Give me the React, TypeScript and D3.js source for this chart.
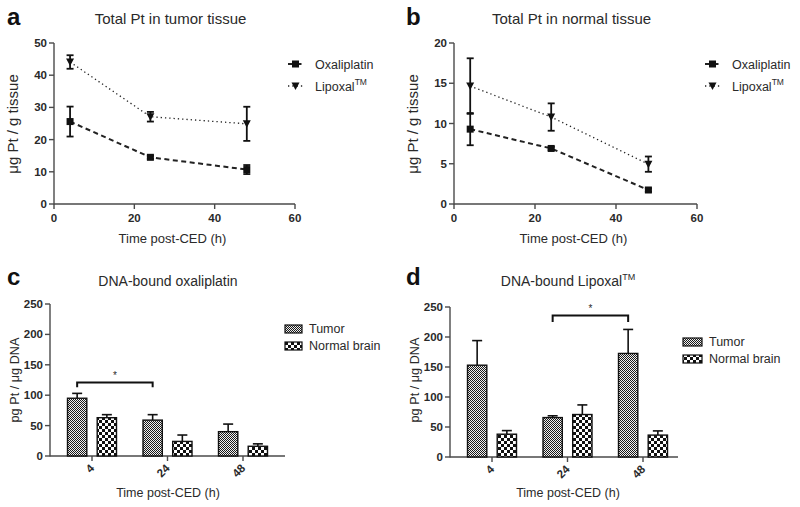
import React from 'react';
import * as d3 from 'd3';

// ---------- data ----------
const lineTimes = [4, 24, 48];
const lineXTicks = [0, 20, 40, 60];
const tumorYTicks = [0, 10, 20, 30, 40, 50];
const normalYTicks = [0, 5, 10, 15, 20];

const tumorOxaliplatinMean = [25.6, 14.5, 10.7];
const tumorOxaliplatinSd = [4.65, 0.5, 1.4];
const tumorLipoxalMean = [44.1, 27.1, 24.9];
const tumorLipoxalSd = [2.1, 1.5, 5.3];

const normalOxaliplatinMean = [9.3, 6.9, 1.74];
const normalOxaliplatinSd = [2.0, 0.2, 0.2];
const normalLipoxalMean = [14.65, 10.8, 4.95];
const normalLipoxalSd = [3.45, 1.7, 0.95];

const barGroups = ['4', '24', '48'];
const barSeriesNames = ['Tumor', 'Normal brain'];
const barYTicks = [0, 50, 100, 150, 200, 250];

const dnaOxTumor = [95, 59, 40];
const dnaOxTumorErr = [8, 9, 12.5];
const dnaOxNormal = [63, 24, 16];
const dnaOxNormalErr = [5, 10.5, 4];

const dnaLipTumor = [153, 65.7, 172.6];
const dnaLipTumorErr = [41, 3, 40];
const dnaLipNormal = [38, 70.8, 36.5];
const dnaLipNormalErr = [6, 16, 7];

const sigOxGroups = ['4', '24'];
const sigOxLevel = [121, 113];
const sigLipGroups = ['24', '48'];
const sigLipLevel = [236, 225];

const FONT = "'Liberation Sans', Arial, sans-serif";
const AXIS = '#4a4a4a';
const TXT = '#2a2a2a';

type Series = { name: string; mean: number[]; sd: number[]; dash: string; marker: 'square' | 'tri'; sw: number };

function Marker({ kind, x, y }: { kind: 'square' | 'tri'; x: number; y: number }) {
  if (kind === 'square') return <rect x={x - 3.5} y={y - 3.5} width={7} height={7} fill="#111" />;
  return <path d={`M${x - 4},${y - 3.5} L${x + 4},${y - 3.5} L${x},${y + 4} Z`} fill="#111" />;
}

function LinePanel(props: {
  letter: string; title: string; x0: number; x1: number; yMax: number; yTicks: number[];
  series: Series[]; legendX: number; ylabel: string; letterX: number;
}) {
  const { letter, title, x0, x1, yMax, yTicks, series, legendX, ylabel, letterX } = props;
  const x = d3.scaleLinear().domain([0, 60]).range([x0, x1]);
  const y = d3.scaleLinear().domain([0, yMax]).range([204, 43]);
  const cx = (x0 + x1) / 2 - 4;
  return (
    <g fontFamily={FONT}>
      <text x={letterX} y={25} fontSize={24} fontWeight="bold" fill="#111">{letter}</text>
      <text x={cx} y={24} fontSize={15} textAnchor="middle" fill={TXT}>{title}</text>
      {/* axes */}
      <line x1={x0} x2={x0} y1={y(0) + 0.5} y2={y(yMax)} stroke={AXIS} strokeWidth={1.4} />
      <line x1={x0} x2={x(60)} y1={y(0)} y2={y(0)} stroke={AXIS} strokeWidth={1.4} />
      {yTicks.map(t => (
        <g key={'y' + t}>
          <line x1={x0 - 5} x2={x0} y1={y(t)} y2={y(t)} stroke={AXIS} strokeWidth={1.4} />
          <text x={x0 - 7} y={y(t) + 4} fontSize={11.5} fontWeight="bold" textAnchor="end" fill={TXT}>{t}</text>
        </g>
      ))}
      {lineXTicks.map(t => (
        <g key={'x' + t}>
          <line x1={x(t)} x2={x(t)} y1={y(0)} y2={y(0) + 5} stroke={AXIS} strokeWidth={1.4} />
          <text x={x(t)} y={222} fontSize={11.5} fontWeight="bold" textAnchor="middle" fill={TXT}>{t}</text>
        </g>
      ))}
      <text x={cx + 2} y={243} fontSize={13} textAnchor="middle" fill={TXT}>Time post-CED (h)</text>
      <text transform={`translate(${x0 - 36},${124}) rotate(-90)`} fontSize={15} textAnchor="middle" fill={TXT}>{ylabel}</text>
      {/* series */}
      {series.map(s => {
        const line = d3.line<number>().x((_, i) => x(lineTimes[i])).y(d => y(d));
        return (
          <g key={s.name}>
            <path d={line(s.mean) || ''} fill="none" stroke="#222" strokeWidth={s.sw} strokeDasharray={s.dash} />
            {s.mean.map((m, i) => (
              <g key={i}>
                <line x1={x(lineTimes[i])} x2={x(lineTimes[i])} y1={y(m - s.sd[i])} y2={y(m + s.sd[i])} stroke="#111" strokeWidth={1.8} />
                <line x1={x(lineTimes[i]) - 3.5} x2={x(lineTimes[i]) + 3.5} y1={y(m - s.sd[i])} y2={y(m - s.sd[i])} stroke="#111" strokeWidth={1.8} />
                <line x1={x(lineTimes[i]) - 3.5} x2={x(lineTimes[i]) + 3.5} y1={y(m + s.sd[i])} y2={y(m + s.sd[i])} stroke="#111" strokeWidth={1.8} />
                <Marker kind={s.marker} x={x(lineTimes[i])} y={y(m)} />
              </g>
            ))}
          </g>
        );
      })}
      {/* legend */}
      {series.map((s, i) => {
        const ly = 64 + i * 22;
        return (
          <g key={'lg' + s.name}>
            <line x1={legendX} x2={legendX + 15} y1={ly} y2={ly} stroke="#222" strokeWidth={s.sw} strokeDasharray={s.dash} />
            <Marker kind={s.marker} x={legendX + 7.5} y={ly} />
            <text x={legendX + 27} y={ly + 5} fontSize={12.5} fill={TXT}>
              {s.name === 'Lipoxal' ? <>Lipoxal<tspan fontSize={8.5} dy={-6}>TM</tspan></> : s.name}
            </text>
          </g>
        );
      })}
    </g>
  );
}

function BarPanel(props: {
  letter: string; title: React.ReactNode; x0: number; xEnd: number; y0: number; y250: number;
  tumor: number[]; tumorErr: number[]; normal: number[]; normalErr: number[];
  sigGroups: string[]; sigLevel: number[]; legendX: number; legendY: number; swW: number; letterX: number;
}) {
  const p = props;
  const y = d3.scaleLinear().domain([0, 250]).range([p.y0, p.y250]);
  const gx = d3.scalePoint<string>().domain(barGroups).range([p.x0 + 42, p.x0 + 193]);
  const sx = d3.scaleBand<string>().domain(barSeriesNames).range([-24.5, 24.5]).paddingInner(0.35);
  const bw = sx.bandwidth();
  const cx = p.x0 + 118;
  const sets = [
    { name: barSeriesNames[0], vals: p.tumor, err: p.tumorErr, fill: 'url(#fine)' },
    { name: barSeriesNames[1], vals: p.normal, err: p.normalErr, fill: 'url(#checker)' },
  ];
  const sxA = (gx(p.sigGroups[0]) as number) + (sx(barSeriesNames[0]) as number) + bw / 2;
  const sxB = (gx(p.sigGroups[1]) as number) + (sx(barSeriesNames[0]) as number) + bw / 2;
  return (
    <g fontFamily={FONT}>
      <text x={p.letterX} y={285} fontSize={24} fontWeight="bold" fill="#111">{p.letter}</text>
      <text x={cx} y={286} fontSize={14} textAnchor="middle" fill={TXT}>{p.title}</text>
      <line x1={p.x0} x2={p.x0} y1={p.y0 + 0.5} y2={y(250)} stroke={AXIS} strokeWidth={1.4} />
      <line x1={p.x0} x2={p.xEnd} y1={p.y0} y2={p.y0} stroke={AXIS} strokeWidth={1.4} />
      {barYTicks.map(t => (
        <g key={'y' + t}>
          <line x1={p.x0 - 5} x2={p.x0} y1={y(t)} y2={y(t)} stroke={AXIS} strokeWidth={1.4} />
          <text x={p.x0 - 7} y={y(t) + 4} fontSize={11.5} fontWeight="bold" textAnchor="end" fill={TXT}>{t}</text>
        </g>
      ))}
      {barGroups.map(g => (
        <g key={'x' + g}>
          <line x1={gx(g)} x2={gx(g)} y1={p.y0} y2={p.y0 + 5} stroke={AXIS} strokeWidth={1.4} />
          <text transform={`translate(${(gx(g) as number) + 3},${p.y0 + 13}) rotate(-45)`} fontSize={11.5} fontWeight="bold" textAnchor="end" fill={TXT}>{g}</text>
        </g>
      ))}
      <text x={cx} y={497} fontSize={12.5} textAnchor="middle" fill={TXT}>Time post-CED (h)</text>
      <text transform={`translate(${p.x0 - 31},${380}) rotate(-90)`} fontSize={12.7} textAnchor="middle" fill={TXT}>pg Pt / μg DNA</text>
      {sets.map(s => (
        <g key={s.name}>
          {barGroups.map((g, i) => {
            const bx = (gx(g) as number) + (sx(s.name) as number);
            const mid = bx + bw / 2;
            return (
              <g key={g}>
                <line x1={mid} x2={mid} y1={y(s.vals[i])} y2={y(s.vals[i] + s.err[i])} stroke="#111" strokeWidth={1.6} />
                <line x1={mid - 5} x2={mid + 5} y1={y(s.vals[i] + s.err[i])} y2={y(s.vals[i] + s.err[i])} stroke="#111" strokeWidth={1.6} />
                <rect x={bx} y={y(s.vals[i])} width={bw} height={p.y0 - y(s.vals[i])} fill={s.fill} stroke="#111" strokeWidth={1.4} />
              </g>
            );
          })}
        </g>
      ))}
      {/* significance */}
      <path d={`M${sxA},${y(p.sigLevel[1])} V${y(p.sigLevel[0])} H${sxB} V${y(p.sigLevel[1])}`} fill="none" stroke="#111" strokeWidth={2} />
      <text x={(sxA + sxB) / 2} y={y(p.sigLevel[0]) - 3} fontSize={10} textAnchor="middle" fill={TXT}>*</text>
      {/* legend */}
      {sets.map((s, i) => (
        <g key={'lg' + s.name}>
          <rect x={p.legendX} y={p.legendY + i * 17} width={p.swW} height={8} fill={s.fill} stroke="#111" strokeWidth={1.2} />
          <text x={p.legendX + p.swW + 7} y={p.legendY + i * 17 + 8} fontSize={12.5} fill={TXT}>{s.name}</text>
        </g>
      ))}
    </g>
  );
}

export default function App() {
  const tumorSeries: Series[] = [
    { name: 'Oxaliplatin', mean: tumorOxaliplatinMean, sd: tumorOxaliplatinSd, dash: '5,3.5', marker: 'square', sw: 2 },
    { name: 'Lipoxal', mean: tumorLipoxalMean, sd: tumorLipoxalSd, dash: '1.3,3', marker: 'tri', sw: 1.3 },
  ];
  const normalSeries: Series[] = [
    { name: 'Oxaliplatin', mean: normalOxaliplatinMean, sd: normalOxaliplatinSd, dash: '5,3.5', marker: 'square', sw: 2 },
    { name: 'Lipoxal', mean: normalLipoxalMean, sd: normalLipoxalSd, dash: '1.3,3', marker: 'tri', sw: 1.3 },
  ];
  return (
    <svg width={800} height={507} style={{ position: 'absolute', left: 0, top: 0, background: '#fff' }}>
      <defs>
        <pattern id="fine" width={2} height={2} patternUnits="userSpaceOnUse">
          <rect width={2} height={2} fill="#f0f0f0" />
          <rect width={1} height={1} fill="#1a1a1a" />
          <rect x={1} y={1} width={1} height={1} fill="#1a1a1a" />
        </pattern>
        <pattern id="checker" width={6} height={6} patternUnits="userSpaceOnUse">
          <rect width={6} height={6} fill="#111" />
          <rect width={3} height={3} fill="#fff" />
          <rect x={3} y={3} width={3} height={3} fill="#fff" />
        </pattern>
      </defs>
      <rect width={800} height={507} fill="#fff" />
      <LinePanel letter="a" letterX={7} title="Total Pt in tumor tissue" x0={54} x1={295} yMax={50} yTicks={tumorYTicks}
        series={tumorSeries} legendX={288} ylabel="μg Pt / g tissue" />
      <LinePanel letter="b" letterX={406} title="Total Pt in normal tissue" x0={454} x1={697} yMax={20} yTicks={normalYTicks}
        series={normalSeries} legendX={705} ylabel="μg Pt / g tissue" />
      <BarPanel letter="c" letterX={7} title="DNA-bound oxaliplatin" x0={50} xEnd={285} y0={456} y250={304}
        tumor={dnaOxTumor} tumorErr={dnaOxTumorErr} normal={dnaOxNormal} normalErr={dnaOxNormalErr}
        sigGroups={sigOxGroups} sigLevel={sigOxLevel} legendX={285} legendY={325} swW={17} />
      <BarPanel letter="d" letterX={406} title={<>DNA-bound Lipoxal<tspan fontSize={9} dy={-6}>TM</tspan></>} x0={450} xEnd={678} y0={457} y250={307}
        tumor={dnaLipTumor} tumorErr={dnaLipTumorErr} normal={dnaLipNormal} normalErr={dnaLipNormalErr}
        sigGroups={sigLipGroups} sigLevel={sigLipLevel} legendX={683} legendY={338} swW={19} />
    </svg>
  );
}
